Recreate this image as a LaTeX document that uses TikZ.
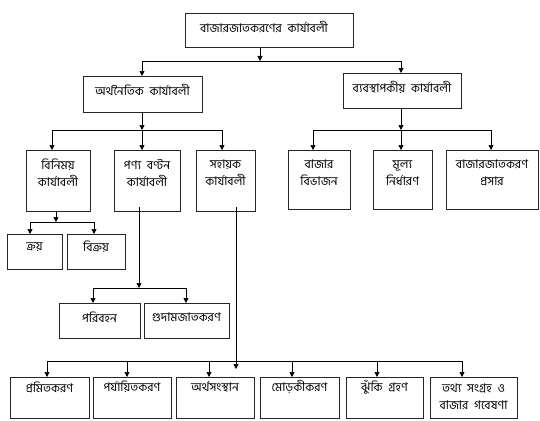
\documentclass[tikz,border=0pt]{standalone}
\usepackage{fontspec}
\newfontfamily\bn[Script=Bengali]{Hind Siliguri}
\usetikzlibrary{arrows.meta}
\tikzset{
  box/.style={draw=black!85, line width=0.8pt, anchor=north west, inner sep=0pt},
  lbl/.style={font=\bn\fontsize{12}{17}\selectfont, align=center, inner sep=0pt},
  conn/.style={draw=black, line width=0.7pt},
  arr/.style={conn, -{Triangle[length=5pt,width=5pt]}},
}
\newcommand\bx[6]{\node[box, minimum width=#3pt-#1pt, minimum height=#4pt-#2pt] (#5) at (#1,#2) {};}
\begin{document}
\begin{tikzpicture}[x=1pt,y=-1pt]
\useasboundingbox (0,0) rectangle (540,420);
% boxes
\bx{185}{13}{353}{47}{top}{}
\bx{83}{76}{202}{112}{econ}{}
\bx{343}{73}{461}{108}{mgmt}{}
\bx{26}{150}{90}{211}{exch}{}
\bx{114}{150}{180}{211}{dist}{}
\bx{196}{150}{255}{211}{aux}{}
\bx{288}{150}{350}{209}{seg}{}
\bx{373}{150}{432}{209}{price}{}
\bx{446}{150}{538}{209}{promo}{}
\bx{7}{234}{62}{269}{buy}{}
\bx{67}{234}{125}{269}{sell}{}
\bx{59}{303}{140}{338}{trans}{}
\bx{144}{303}{229}{338}{ware}{}
\bx{10}{377}{89}{418}{std}{}
\bx{93}{377}{171}{418}{grade}{}
\bx{176}{377}{254}{418}{fin}{}
\bx{260}{377}{339}{418}{pack}{}
\bx{346}{377}{423}{418}{risk}{}
\bx{430}{377}{517}{418}{info}{}
% labels
\node[lbl] (topT) at (264,27) {বাজারজাতকরণের\hspace{3pt} কার্যাবলী};
\node[lbl] (econT) at (142.5,90) {অর্থনৈতিক\hspace{3pt} কার্যাবলী};
\node[lbl] (mgmtT) at (402,87) {ব্যবস্থাপকীয়\hspace{3pt} কার্যাবলী};
\node[lbl] (exchT) at (58,173) {বিনিময়\\কার্যাবলী};
\node[lbl] (distT) at (147,173) {পণ্য\hspace{3pt} বণ্টন\\কার্যাবলী};
\node[lbl] (auxT) at (225.5,173) {সহায়ক\\কার্যাবলী};
\node[lbl] (segT) at (319,173) {বাজার\\বিভাজন};
\node[lbl] (priceT) at (402.5,173) {মূল্য\\নির্ধারণ};
\node[lbl] (promoT) at (492,173) {বাজারজাতকরণ\\প্রসার};
\node[lbl] (buyT) at (34.5,247) {ক্রয়};
\node[lbl] (sellT) at (96,247) {বিক্রয়};
\node[lbl] (transT) at (99.5,317) {পরিবহন};
\node[lbl] (wareT) at (186.5,317) {গুদামজাতকরণ};
\node[lbl] (stdT) at (49.5,387) {প্রমিতকরণ};
\node[lbl] (gradeT) at (132,387) {পর্যায়িতকরণ};
\node[lbl] (finT) at (215,387) {অর্থসংস্থান};
\node[lbl] (packT) at (299.5,387) {মোড়কীকরণ};
\node[lbl] (riskT) at (384.5,387) {ঝুঁকি\hspace{3pt} গ্রহণ};
\node[lbl] (infoT) at (473.5,397) {তথ্য\hspace{3pt} সংগ্রহ\hspace{3pt} ও\\বাজার\hspace{3pt} গবেষণা};
% connector x positions
\coordinate (xa) at (260,0);
\coordinate (xb) at (142,0);
\coordinate (xc) at (401,0);
\coordinate (xd) at (52,0);
\coordinate (xe) at (222,0);
\coordinate (xf) at (313,0);
\coordinate (xg) at (491,0);
\coordinate (xh) at (56,0);
\coordinate (xi) at (30,0);
\coordinate (xj) at (94,0);
\coordinate (xk) at (139,0);
\coordinate (xl) at (93,0);
\coordinate (xm) at (186,0);
\coordinate (xn) at (236,0);
\coordinate (x1) at (47,0);
\coordinate (x2) at (127,0);
\coordinate (x3) at (209,0);
\coordinate (x4) at (292,0);
\coordinate (x5) at (377,0);
\coordinate (x6) at (462,0);
% bus levels
\coordinate (b1) at (0,61);
\coordinate (b2) at (0,130);
\coordinate (b4) at (0,222);
\coordinate (b5) at (0,288);
\coordinate (b6) at (0,361);
\coordinate (s1) at (0,207);
\coordinate (s2) at (0,369);
% level 1
\draw[arr] (xa |- top.south) -- (xa |- b1);
\draw[conn] (xb |- b1) -- (xc |- b1);
\draw[arr] (xb |- b1) -- (xb |- econ.north);
\draw[arr] (xc |- b1) -- (xc |- mgmt.north);
% economic branch
\draw[arr] (xb |- econ.south) -- (xb |- b2);
\draw[arr] (xb |- b2) -- (xb |- dist.north);
\draw[conn] (xd |- b2) -- (xe |- b2);
\draw[arr] (xd |- b2) -- (xd |- exch.north);
\draw[arr] (xe |- b2) -- (xe |- aux.north);
% management branch
\draw[arr] (xc |- mgmt.south) -- (xc |- b2);
\draw[arr] (xc |- b2) -- (xc |- price.north);
\draw[conn] (xf |- b2) -- (xg |- b2);
\draw[arr] (xf |- b2) -- (xf |- seg.north);
\draw[arr] (xg |- b2) -- (xg |- promo.north);
% exchange
\draw[arr] (xh |- exch.south) -- (xh |- b4);
\draw[conn] (xi |- b4) -- (xj |- b4);
\draw[arr] (xi |- b4) -- (xi |- buy.north);
\draw[arr] (xj |- b4) -- (xj |- sell.north);
% distribution
\draw[arr] (xk |- s1) -- (xk |- b5);
\draw[conn] (xl |- b5) -- (xm |- b5);
\draw[arr] (xl |- b5) -- (xl |- trans.north);
\draw[arr] (xm |- b5) -- (xm |- ware.north);
% auxiliary
\draw[arr] (xn |- s1) -- (xn |- s2);
\draw[conn] (x1 |- b6) -- (x6 |- b6);
\draw[arr] (x1 |- b6) -- (x1 |- std.north);
\draw[arr] (x2 |- b6) -- (x2 |- grade.north);
\draw[arr] (x3 |- b6) -- (x3 |- fin.north);
\draw[arr] (x4 |- b6) -- (x4 |- pack.north);
\draw[arr] (x5 |- b6) -- (x5 |- risk.north);
\draw[arr] (x6 |- b6) -- (x6 |- info.north);
\end{tikzpicture}
\end{document}
